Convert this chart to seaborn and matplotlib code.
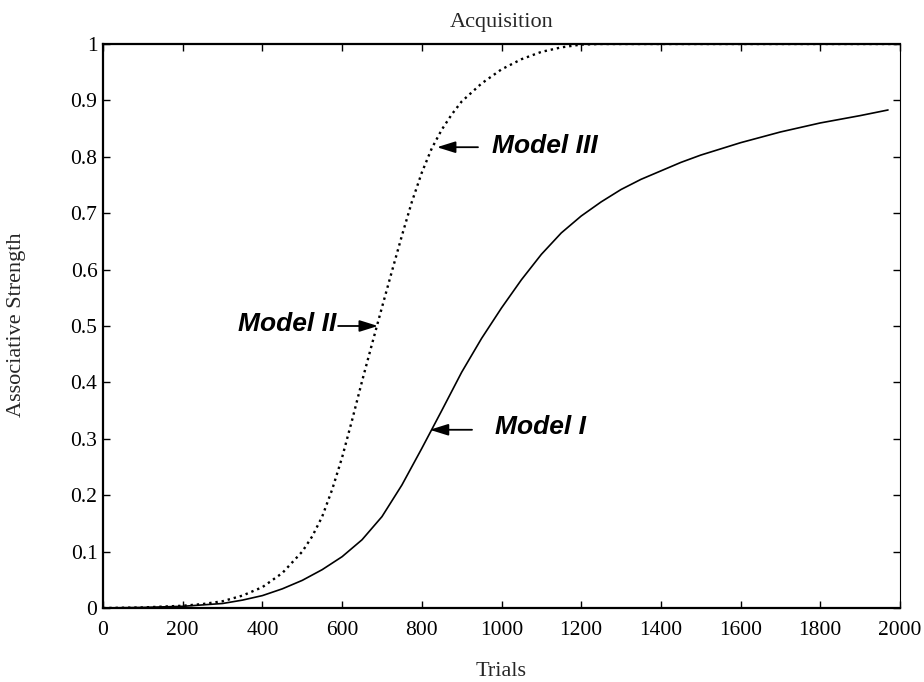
import numpy as np
import pandas as pd
import matplotlib
matplotlib.use("Agg")
import matplotlib.pyplot as plt
import seaborn as sns

# Model I (solid curve): associative strength over trials
model1_trials = [0, 100, 200, 300, 350, 400, 450, 500, 550, 600, 650, 700, 750, 800,
                 850, 900, 950, 1000, 1050, 1100, 1150, 1200, 1250, 1300, 1350,
                 1400, 1450, 1500, 1600, 1700, 1800, 1900, 1970]
model1_strength = [0.000, 0.001, 0.003, 0.008, 0.014, 0.022, 0.034, 0.049, 0.068,
                   0.091, 0.121, 0.162, 0.218, 0.283, 0.350, 0.418, 0.478, 0.532,
                   0.582, 0.627, 0.665, 0.695, 0.720, 0.742, 0.760, 0.775, 0.790,
                   0.803, 0.825, 0.844, 0.860, 0.873, 0.883]

# Models II / III (dotted curve)
model23_trials = [0, 100, 200, 250, 300, 350, 400, 450, 500, 525, 550, 575, 600,
                  625, 650, 675, 700, 725, 750, 775, 800, 825, 850, 875, 900, 950,
                  1000, 1050, 1100, 1150, 1200, 1250, 1500, 2000]
model23_strength = [0.000, 0.001, 0.004, 0.007, 0.012, 0.022, 0.037, 0.062, 0.100,
                    0.127, 0.162, 0.210, 0.267, 0.333, 0.402, 0.468, 0.533, 0.597,
                    0.660, 0.720, 0.772, 0.815, 0.848, 0.875, 0.898, 0.930, 0.955,
                    0.973, 0.986, 0.994, 0.999, 1.000, 1.000, 1.000]

x_ticks = [0, 200, 400, 600, 800, 1000, 1200, 1400, 1600, 1800, 2000]
y_ticks = [0, 0.1, 0.2, 0.3, 0.4, 0.5, 0.6, 0.7, 0.8, 0.9, 1.0]
y_tick_labels = ["0", "0.1", "0.2", "0.3", "0.4", "0.5", "0.6", "0.7", "0.8", "0.9", "1"]

# Curve labels with their arrows (head, tail) and text anchor positions
labels = ["Model III", "Model II", "Model I"]
label_heads = [(838, 0.817), (690, 0.500), (820, 0.316)]
label_tails = [(941, 0.817), (590, 0.500), (926, 0.316)]
label_text_pos = [(976, 0.819), (585, 0.503), (984, 0.321)]
label_align = ["left", "right", "left"]

sns.set_style("ticks")
plt.rcParams["font.family"] = ["Liberation Serif", "DejaVu Serif"]

fig = plt.figure(figsize=(9.24, 6.82), dpi=100)
ax = fig.add_axes([0.1115, 0.1085, 0.8625, 0.827])

df1 = pd.DataFrame({"Trials": model1_trials, "Strength": model1_strength})
df23 = pd.DataFrame({"Trials": model23_trials, "Strength": model23_strength})

sns.lineplot(data=df1, x="Trials", y="Strength", ax=ax, color="black",
             linewidth=1.2, linestyle="-", sort=False)
sns.lineplot(data=df23, x="Trials", y="Strength", ax=ax, color="black",
             linewidth=1.7, linestyle=":", sort=False)

ax.set_xlim(0, 2000)
ax.set_ylim(0, 1)
ax.set_xticks(x_ticks)
ax.set_xticklabels([str(t) for t in x_ticks])
ax.set_yticks(y_ticks)
ax.set_yticklabels(y_tick_labels)

ax.tick_params(axis="both", direction="in", length=5, width=1.0, colors="black",
               labelsize=15.5, top=True, right=True)
ax.tick_params(axis="x", pad=9)
ax.tick_params(axis="y", pad=4)

for side in ["left", "bottom", "top"]:
    ax.spines[side].set_visible(True)
    ax.spines[side].set_linewidth(1.6)
    ax.spines[side].set_color("black")
ax.spines["right"].set_visible(True)
ax.spines["right"].set_linewidth(0.8)
ax.spines["right"].set_color("black")

ax.set_title("Acquisition", fontsize=16, pad=12)
ax.set_xlabel("Trials", fontsize=16)
ax.set_ylabel("Associative Strength", fontsize=16)
ax.xaxis.set_label_coords(0.5, -0.112)
ax.xaxis.label.set_va("center")
ax.yaxis.set_label_coords(-0.108, 0.502)
ax.yaxis.label.set_va("center")

for text, head, tail, tpos, ha in zip(labels, label_heads, label_tails,
                                      label_text_pos, label_align):
    ax.annotate("", xy=head, xytext=tail,
                arrowprops=dict(arrowstyle="-|>,head_length=0.8,head_width=0.25",
                                color="black", lw=1.3, mutation_scale=14,
                                shrinkA=0, shrinkB=0))
    ax.text(tpos[0], tpos[1], text, ha=ha, va="center", fontsize=19,
            fontweight="bold", fontstyle="italic",
            family=["Liberation Sans", "DejaVu Sans"], color="black")

fig.savefig("out.png", dpi=100)
